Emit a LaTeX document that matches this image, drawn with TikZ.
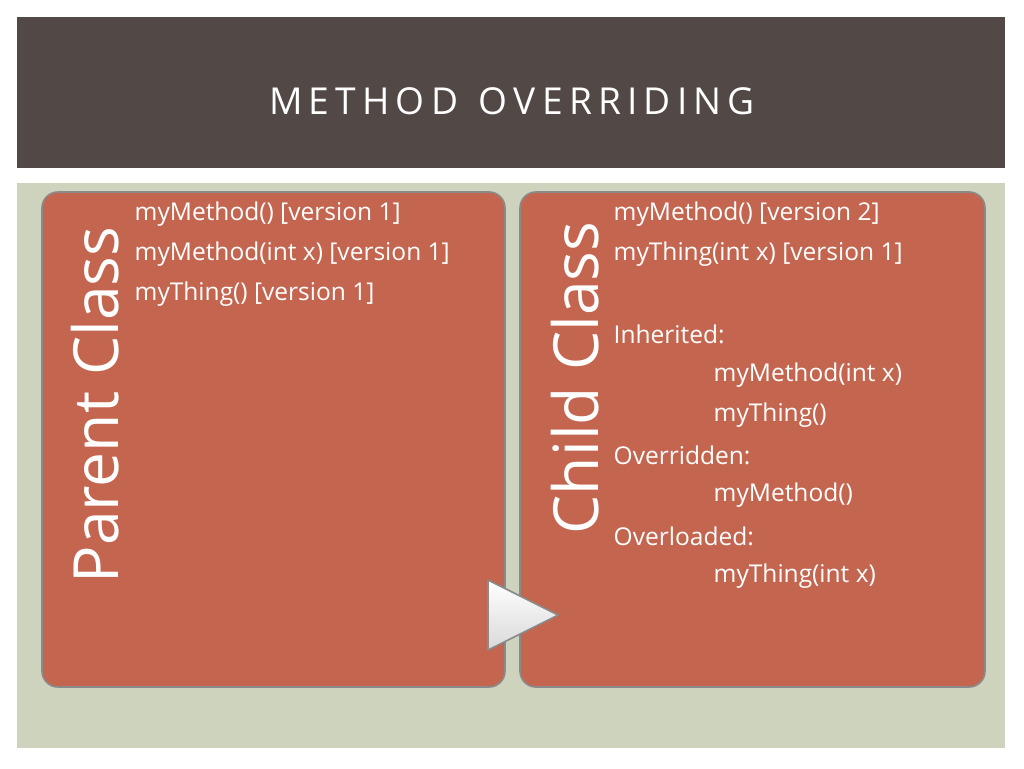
\documentclass[tikz,border=0pt]{standalone}
\usepackage{fontspec}
\setmainfont{Open Sans}
\definecolor{titlebar}{HTML}{524846}
\definecolor{panel}{HTML}{CDD3BC}
\definecolor{boxfill}{HTML}{C4654F}
\definecolor{boxedge}{HTML}{8A8A8A}
\tikzset{
  classbox/.style={draw=boxedge, line width=1.2pt, fill=boxfill, rounded corners=12pt},
  classlabel/.style={rotate=90, text=white, font=\fontsize{47}{50}\selectfont},
  item/.style={anchor=west, text=white, font=\fontsize{18.5}{20}\selectfont}
}
\begin{document}
\begin{tikzpicture}[x=0.0265cm, y=-0.0265cm]
  \useasboundingbox (0,0) rectangle (1024,768);
  \fill[white] (0,0) rectangle (1024,768);
  % title
  \fill[titlebar] (17,17) rectangle (1005,168);
  \node[text=white, font=\fontsize{28}{30}\selectfont] (title) at (512,101) {M\,E\,T\,H\,O\,D\;\;O\,V\,E\,R\,R\,I\,D\,I\,N\,G};
  \fill[panel] (17,183) rectangle (1005,748);
  % boxes
  \draw[classbox] (42,192) rectangle (505,687);
  \draw[classbox] (520,192) rectangle (985,687);
  \node[classlabel] (parent) at (95,405) {Parent Class};
  \node[classlabel] (child) at (575,378) {Child Class};
  % parent items
  \node[item] (p1) at (130,214) {myMethod() [version 1]};
  \node[item] (p2) at (130,254) {myMethod(int x) [version 1]};
  \node[item] (p3) at (130,294) {myThing() [version 1]};
  % child items
  \node[item] (c1) at (609,214) {myMethod() [version 2]};
  \node[item] (c2) at (609,254) {myThing(int x) [version 1]};
  \node[item] (c3) at (609,334) {Inherited:};
  \node[item] (c4) at (709,375) {myMethod(int x)};
  \node[item] (c5) at (709,415) {myThing()};
  \node[item] (c6) at (609,455) {Overridden:};
  \node[item] (c7) at (709,495) {myMethod()};
  \node[item] (c8) at (609,536) {Overloaded:};
  \node[item] (c9) at (709,576) {myThing(int x)};
  % arrow
  \draw[boxedge, line width=1.2pt, top color=white, bottom color=gray!30, line join=round]
    (488,580) -- (558,615) -- (488,650) -- cycle;
\end{tikzpicture}
\end{document}
